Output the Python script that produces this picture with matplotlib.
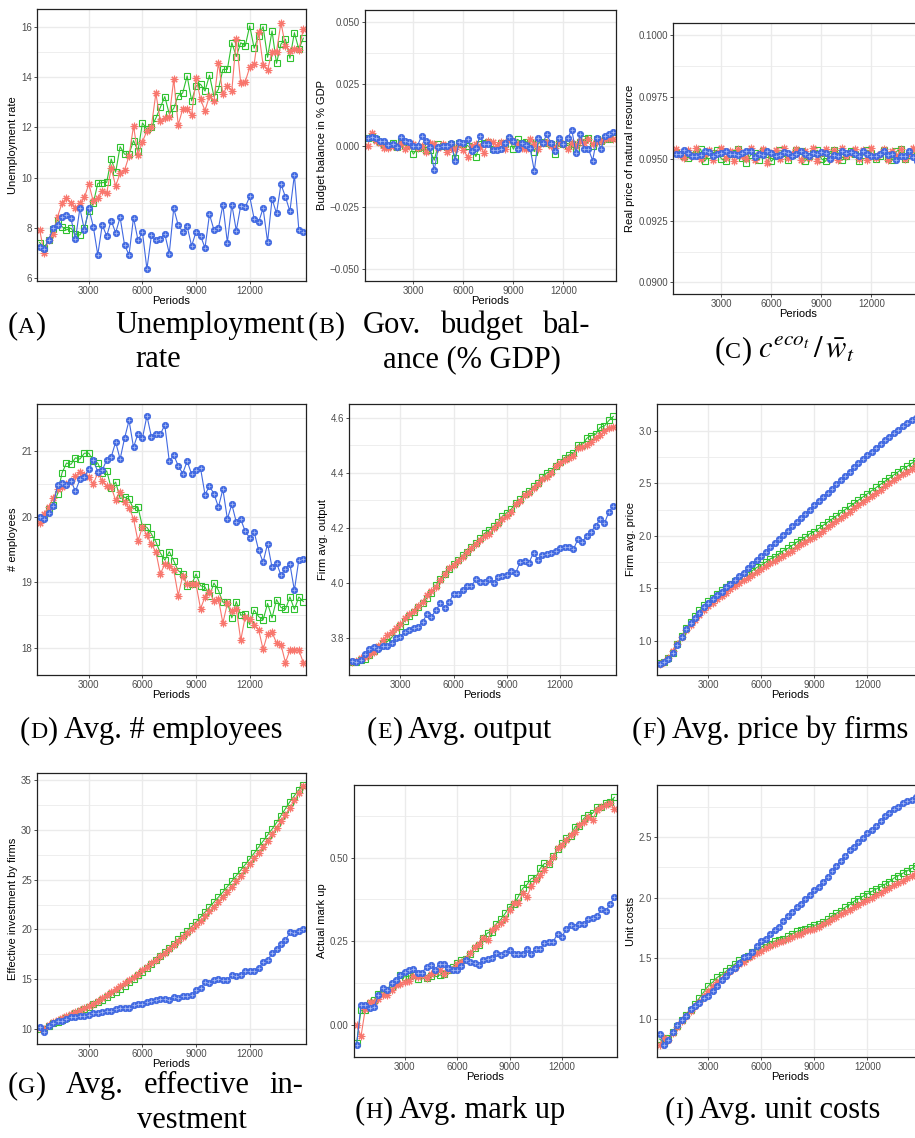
import numpy as np
import matplotlib
matplotlib.use('Agg')
import matplotlib.pyplot as plt
from matplotlib import font_manager as fm
from matplotlib.ticker import FuncFormatter

# ---------------- data ----------------
periods = np.arange(250, 15001, 250)

unemp_red = [7.92, 7.0, 7.52, 7.75, 8.45, 8.98, 9.18, 9.0, 8.78, 8.98,
             9.21, 9.75, 9.05, 9.18, 9.47, 9.38, 10.37, 9.67, 10.17, 10.30,
             10.86, 12.05, 10.90, 11.43, 11.85, 12.03, 13.35, 12.26, 12.36, 12.40,
             13.91, 12.09, 12.72, 12.72, 12.49, 13.95, 13.11, 12.66, 13.25, 13.05,
             14.57, 13.32, 13.64, 13.46, 15.50, 13.75, 13.81, 14.38, 14.52, 15.80,
             14.48, 14.28, 15.0, 15.0, 16.16, 15.23, 15.05, 15.11, 15.07, 15.9]
unemp_green = [7.42, 7.20, 7.52, 7.95, 8.32, 8.05, 7.92, 7.99, 7.75, 7.72,
               7.99, 8.68, 8.98, 9.77, 9.80, 9.81, 10.74, 10.21, 11.23, 10.93,
               10.93, 11.47, 11.06, 12.17, 11.92, 12.01, 12.36, 12.79, 13.22, 12.53,
               12.75, 13.26, 13.36, 14.04, 13.05, 13.64, 13.71, 13.44, 14.07, 13.22,
               13.51, 14.30, 14.30, 15.36, 14.81, 15.36, 15.23, 16.03, 15.14, 15.64,
               16.0, 14.78, 15.83, 14.54, 15.31, 15.50, 14.74, 15.76, 15.1, 15.54]
unemp_blue = [7.23, 7.17, 7.52, 7.99, 8.11, 8.45, 8.52, 8.38, 7.55, 8.78,
              7.92, 8.78, 8.05, 6.93, 8.12, 7.68, 8.29, 7.81, 8.42, 7.31,
              6.93, 8.41, 7.51, 7.83, 6.36, 7.70, 7.50, 7.56, 7.76, 6.98,
              8.78, 8.11, 7.85, 8.07, 7.28, 7.85, 7.68, 7.21, 8.54, 7.92,
              7.99, 8.91, 7.42, 8.93, 7.89, 8.89, 8.82, 9.25, 8.36, 8.23,
              8.78, 7.44, 9.15, 8.58, 9.74, 9.23, 8.66, 10.11, 7.92, 7.85]

budget_red = [-0.0003, 0.0050, 0.0020, 0.0010, -0.0010, -0.0010, 0.0000, -0.0005, 0.0010, -0.0015,
              0.0000, 0.0005, -0.0010, 0.0000, -0.0025, 0.0010, 0.0005, -0.0010, 0.0005, -0.0025,
              -0.0010, -0.0015, 0.0005, -0.0020, -0.0045, 0.0000, 0.0005, -0.0005, -0.0030, 0.0020,
              0.0015, 0.0000, 0.0015, -0.0015, 0.0025, 0.0020, 0.0005, -0.0010, -0.0015, 0.0025,
              0.0005, -0.0015, 0.0010, 0.0015, 0.0000, -0.0010, 0.0015, 0.0005, -0.0015, 0.0010,
              0.0000, 0.0020, 0.0010, 0.0025, 0.0005, 0.0015, 0.0020, 0.0025, 0.0030, 0.0025]
budget_green = [0.0030, 0.0035, 0.0025, 0.0015, 0.0005, 0.0000, 0.0010, -0.0005, 0.0020, 0.0000,
                0.0005, -0.0035, -0.0010, -0.0005, -0.0020, -0.0020, -0.0060, 0.0005, 0.0000, -0.0005,
                0.0005, -0.0050, 0.0010, 0.0005, 0.0000, -0.0015, -0.0045, 0.0005, 0.0010, 0.0015,
                -0.0015, -0.0015, 0.0010, 0.0005, 0.0025, -0.0015, 0.0025, 0.0010, 0.0015, 0.0015,
                -0.0025, 0.0010, 0.0015, 0.0010, 0.0005, -0.0035, 0.0010, 0.0005, 0.0000, 0.0005,
                -0.0020, 0.0015, 0.0025, 0.0030, 0.0000, 0.0025, 0.0020, 0.0030, 0.0025, 0.0030]
budget_blue = [0.0032, 0.0033, 0.0030, 0.0018, 0.0020, 0.0003, 0.0006, -0.0007, 0.0036, 0.0020,
               0.0014, -0.0004, 0.0000, 0.0039, 0.0020, -0.0007, -0.0100, -0.0008, -0.0004, 0.0000,
               0.0010, -0.0061, 0.0014, 0.0010, 0.0028, -0.0024, -0.0011, 0.0039, 0.0007, 0.0008,
               -0.0020, -0.0018, -0.0013, 0.0012, 0.0034, 0.0020, -0.0015, 0.0009, 0.0003, -0.0011,
               -0.0103, 0.0030, 0.0009, 0.0045, 0.0009, -0.0024, 0.0032, 0.0007, 0.0030, 0.0064,
               -0.0031, 0.0045, -0.0015, -0.0015, -0.0061, 0.0030, -0.0015, 0.0039, 0.0045, 0.0053]

resource_red = [0.09540, 0.09515, 0.09505, 0.09535, 0.09510, 0.09545, 0.09500, 0.09520, 0.09535, 0.09495,
                0.09525, 0.09545, 0.09505, 0.09530, 0.09490, 0.09540, 0.09510, 0.09500, 0.09545, 0.09495,
                0.09520, 0.09540, 0.09485, 0.09525, 0.09535, 0.09500, 0.09545, 0.09505, 0.09520, 0.09540,
                0.09495, 0.09530, 0.09505, 0.09545, 0.09490, 0.09525, 0.09540, 0.09500, 0.09535, 0.09495,
                0.09545, 0.09510, 0.09525, 0.09540, 0.09500, 0.09535, 0.09495, 0.09545, 0.09505, 0.09520,
                0.09540, 0.09495, 0.09530, 0.09510, 0.09540, 0.09500, 0.09525, 0.09545, 0.09505, 0.09535]
resource_green = [0.09525, 0.09520, 0.09510, 0.09505, 0.09515, 0.09520, 0.09540, 0.09490, 0.09515, 0.09525,
                  0.09535, 0.09500, 0.09490, 0.09520, 0.09525, 0.09540, 0.09505, 0.09485, 0.09515, 0.09525,
                  0.09495, 0.09530, 0.09520, 0.09490, 0.09510, 0.09535, 0.09525, 0.09495, 0.09515, 0.09535,
                  0.09530, 0.09490, 0.09510, 0.09525, 0.09535, 0.09500, 0.09490, 0.09520, 0.09535, 0.09525,
                  0.09495, 0.09510, 0.09530, 0.09520, 0.09490, 0.09515, 0.09535, 0.09525, 0.09500, 0.09510,
                  0.09535, 0.09505, 0.09495, 0.09530, 0.09540, 0.09500, 0.09515, 0.09530, 0.09510, 0.09525]
resource_blue = [0.09518, 0.09520, 0.09535, 0.09525, 0.09512, 0.09512, 0.09515, 0.09530, 0.09528, 0.09512,
                 0.09518, 0.09522, 0.09533, 0.09520, 0.09520, 0.09515, 0.09525, 0.09532, 0.09530, 0.09508,
                 0.09518, 0.09515, 0.09530, 0.09522, 0.09510, 0.09515, 0.09528, 0.09525, 0.09512, 0.09518,
                 0.09530, 0.09520, 0.09512, 0.09525, 0.09520, 0.09528, 0.09522, 0.09500, 0.09515, 0.09512,
                 0.09530, 0.09522, 0.09528, 0.09518, 0.09510, 0.09530, 0.09520, 0.09512, 0.09512, 0.09520,
                 0.09530, 0.09515, 0.09520, 0.09495, 0.09510, 0.09510, 0.09532, 0.09508, 0.09490, 0.09500]

employees_red = [19.90, 20.05, 20.15, 20.28, 20.42, 20.45, 20.50, 20.55, 20.62, 20.68,
                 20.64, 20.60, 20.50, 20.67, 20.55, 20.47, 20.46, 20.25, 20.38, 20.22,
                 20.14, 19.97, 19.63, 19.85, 19.72, 19.58, 19.47, 19.13, 19.28, 19.25,
                 19.19, 18.80, 19.10, 18.97, 18.97, 18.97, 18.60, 18.78, 18.85, 18.72,
                 18.75, 18.38, 18.68, 18.57, 18.60, 18.12, 18.48, 18.45, 18.35, 18.28,
                 17.98, 18.22, 18.24, 18.08, 18.05, 17.78, 17.97, 17.97, 17.97, 17.78]
employees_green = [19.95, 20.00, 20.12, 20.18, 20.35, 20.67, 20.82, 20.80, 20.90, 20.88,
                   20.97, 20.97, 20.85, 20.82, 20.67, 20.70, 20.44, 20.53, 20.28, 20.30,
                   20.27, 20.12, 20.15, 19.85, 19.84, 19.74, 19.62, 19.45, 19.34, 19.47,
                   19.33, 19.18, 19.13, 18.95, 18.97, 19.13, 18.95, 18.93, 18.80, 18.99,
                   18.88, 18.70, 18.70, 18.46, 18.71, 18.50, 18.52, 18.36, 18.58, 18.48,
                   18.43, 18.68, 18.46, 18.74, 18.62, 18.59, 18.78, 18.59, 18.78, 18.71]
employees_blue = [20.00, 19.97, 20.06, 20.17, 20.48, 20.52, 20.49, 20.55, 20.39, 20.57,
                  20.61, 20.73, 20.86, 20.69, 20.71, 20.87, 20.91, 21.14, 20.88, 21.20,
                  21.47, 21.06, 21.27, 21.20, 21.54, 21.22, 21.27, 21.26, 21.40, 20.85,
                  20.94, 20.78, 20.66, 20.85, 20.65, 20.71, 20.74, 20.34, 20.47, 20.35,
                  20.15, 20.42, 19.97, 20.19, 19.92, 19.96, 19.78, 19.68, 19.77, 19.49,
                  19.31, 19.59, 19.23, 19.30, 19.11, 19.21, 19.28, 18.88, 19.35, 19.36]

output_red = [3.712, 3.715, 3.725, 3.728, 3.735, 3.748, 3.770, 3.790, 3.808, 3.820,
              3.835, 3.848, 3.870, 3.885, 3.898, 3.915, 3.930, 3.955, 3.970, 3.985,
              4.010, 4.030, 4.052, 4.065, 4.080, 4.095, 4.112, 4.125, 4.140, 4.155,
              4.168, 4.178, 4.198, 4.212, 4.230, 4.242, 4.258, 4.285, 4.298, 4.318,
              4.325, 4.345, 4.360, 4.378, 4.385, 4.400, 4.425, 4.435, 4.448, 4.455,
              4.462, 4.490, 4.495, 4.500, 4.512, 4.525, 4.538, 4.550, 4.562, 4.565]
output_green = [3.710, 3.712, 3.718, 3.722, 3.735, 3.752, 3.765, 3.775, 3.785, 3.800,
                3.822, 3.843, 3.862, 3.878, 3.892, 3.910, 3.925, 3.945, 3.962, 3.990,
                4.015, 4.030, 4.050, 4.068, 4.082, 4.100, 4.110, 4.128, 4.145, 4.162,
                4.180, 4.192, 4.205, 4.220, 4.242, 4.255, 4.268, 4.290, 4.303, 4.322,
                4.335, 4.350, 4.362, 4.385, 4.400, 4.405, 4.425, 4.438, 4.455, 4.465,
                4.470, 4.500, 4.502, 4.525, 4.535, 4.540, 4.565, 4.570, 4.590, 4.605]
output_blue = [3.715, 3.713, 3.718, 3.740, 3.760, 3.765, 3.760, 3.770, 3.768, 3.780,
               3.800, 3.802, 3.820, 3.826, 3.835, 3.840, 3.858, 3.885, 3.876, 3.900,
               3.925, 3.907, 3.930, 3.960, 3.960, 3.975, 3.988, 3.988, 4.012, 4.004,
               4.004, 4.012, 4.000, 4.022, 4.024, 4.028, 4.044, 4.036, 4.076, 4.080,
               4.073, 4.109, 4.082, 4.100, 4.104, 4.109, 4.115, 4.127, 4.131, 4.128,
               4.121, 4.158, 4.149, 4.170, 4.185, 4.207, 4.230, 4.216, 4.258, 4.278]

price_red = [0.78, 0.80, 0.84, 0.90, 0.97, 1.04, 1.10, 1.15, 1.20, 1.25,
             1.29, 1.33, 1.36, 1.40, 1.43, 1.46, 1.49, 1.52, 1.55, 1.58,
             1.60, 1.63, 1.66, 1.68, 1.71, 1.74, 1.76, 1.79, 1.81, 1.84,
             1.86, 1.89, 1.92, 1.94, 1.97, 1.99, 2.02, 2.05, 2.08, 2.11,
             2.14, 2.17, 2.20, 2.23, 2.26, 2.29, 2.32, 2.35, 2.38, 2.41,
             2.44, 2.47, 2.50, 2.53, 2.56, 2.59, 2.61, 2.64, 2.67, 2.70]
price_green = [0.79, 0.80, 0.835, 0.89, 0.97, 1.05, 1.12, 1.18, 1.24, 1.29,
               1.34, 1.38, 1.41, 1.45, 1.48, 1.51, 1.54, 1.57, 1.59, 1.62,
               1.65, 1.67, 1.70, 1.72, 1.75, 1.78, 1.80, 1.83, 1.86, 1.88,
               1.91, 1.94, 1.96, 1.99, 2.02, 2.04, 2.07, 2.10, 2.13, 2.16,
               2.19, 2.22, 2.25, 2.28, 2.31, 2.34, 2.37, 2.40, 2.43, 2.46,
               2.49, 2.52, 2.55, 2.58, 2.61, 2.64, 2.66, 2.69, 2.71, 2.74]
price_blue = [0.785, 0.80, 0.83, 0.885, 0.96, 1.04, 1.11, 1.17, 1.22, 1.27,
              1.32, 1.36, 1.40, 1.44, 1.47, 1.51, 1.54, 1.58, 1.62, 1.65,
              1.69, 1.73, 1.77, 1.81, 1.85, 1.89, 1.93, 1.97, 2.01, 2.05,
              2.09, 2.13, 2.17, 2.21, 2.25, 2.29, 2.33, 2.37, 2.41, 2.45,
              2.49, 2.53, 2.57, 2.61, 2.65, 2.69, 2.73, 2.77, 2.80, 2.84,
              2.87, 2.91, 2.94, 2.98, 3.01, 3.04, 3.07, 3.10, 3.12, 3.15]

invest_red = [10.10, 10.05, 10.40, 10.75, 10.90, 11.10, 11.30, 11.50, 11.70, 11.90,
              12.10, 12.30, 12.55, 12.80, 13.10, 13.40, 13.70, 14.00, 14.30, 14.60,
              14.90, 15.25, 15.55, 15.90, 16.25, 16.60, 16.95, 17.30, 17.65, 18.05,
              18.40, 18.80, 19.20, 19.60, 20.00, 20.40, 20.85, 21.30, 21.80, 22.30,
              22.80, 23.30, 23.80, 24.30, 24.85, 25.40, 26.00, 26.60, 27.15, 27.70,
              28.30, 28.90, 29.55, 30.20, 30.85, 31.50, 32.20, 32.95, 33.65, 34.40]
invest_green = [10.05, 10.00, 10.30, 10.60, 10.75, 10.95, 11.15, 11.35, 11.60, 11.85,
                12.05, 12.25, 12.50, 12.70, 12.95, 13.20, 13.50, 13.75, 14.05, 14.35,
                14.70, 15.05, 15.40, 15.75, 16.15, 16.55, 16.95, 17.35, 17.75, 18.15,
                18.55, 19.00, 19.40, 19.85, 20.30, 20.75, 21.25, 21.75, 22.25, 22.75,
                23.25, 23.75, 24.30, 24.85, 25.40, 25.95, 26.50, 27.05, 27.65, 28.25,
                28.85, 29.45, 30.05, 30.70, 31.40, 32.10, 32.80, 33.40, 34.00, 34.50]
invest_blue = [10.27, 9.77, 10.33, 10.60, 10.83, 10.87, 11.00, 11.20, 11.20, 11.33,
               11.37, 11.40, 11.60, 11.67, 11.70, 11.80, 11.87, 12.07, 12.17, 12.17,
               12.10, 12.40, 12.50, 12.57, 12.70, 12.80, 12.93, 13.07, 13.07, 12.93,
               13.27, 13.13, 13.37, 13.33, 13.43, 13.93, 14.13, 14.73, 14.60, 14.93,
               15.07, 14.93, 14.93, 15.40, 15.33, 15.47, 15.87, 15.80, 15.80, 16.10,
               16.73, 16.93, 17.60, 18.00, 18.53, 18.93, 19.70, 19.60, 19.87, 20.00]

markup_red = [0.000, -0.035, 0.048, 0.068, 0.068, 0.078, 0.088, 0.088, 0.103, 0.118,
              0.123, 0.128, 0.130, 0.145, 0.143, 0.148, 0.140, 0.153, 0.158, 0.163,
              0.153, 0.165, 0.168, 0.181, 0.188, 0.198, 0.215, 0.233, 0.243, 0.261,
              0.253, 0.285, 0.293, 0.306, 0.315, 0.343, 0.365, 0.363, 0.393, 0.383,
              0.415, 0.433, 0.448, 0.463, 0.483, 0.503, 0.528, 0.538, 0.553, 0.568,
              0.578, 0.598, 0.608, 0.623, 0.613, 0.643, 0.653, 0.658, 0.665, 0.645]
markup_green = [-0.055, 0.043, 0.045, 0.065, 0.073, 0.093, 0.098, 0.103, 0.113, 0.125,
                0.148, 0.143, 0.145, 0.148, 0.138, 0.150, 0.141, 0.146, 0.156, 0.148,
                0.152, 0.163, 0.173, 0.185, 0.195, 0.198, 0.213, 0.230, 0.238, 0.261,
                0.275, 0.278, 0.303, 0.315, 0.333, 0.353, 0.360, 0.383, 0.408, 0.420,
                0.438, 0.440, 0.468, 0.483, 0.481, 0.505, 0.525, 0.543, 0.558, 0.565,
                0.593, 0.595, 0.618, 0.628, 0.633, 0.651, 0.653, 0.665, 0.668, 0.681]
markup_blue = [-0.062, 0.060, 0.058, 0.050, 0.053, 0.088, 0.110, 0.103, 0.125, 0.133,
               0.150, 0.158, 0.163, 0.168, 0.156, 0.156, 0.173, 0.178, 0.165, 0.183,
               0.181, 0.171, 0.165, 0.165, 0.175, 0.193, 0.188, 0.186, 0.178, 0.195,
               0.198, 0.201, 0.215, 0.210, 0.215, 0.223, 0.211, 0.211, 0.213, 0.228,
               0.211, 0.228, 0.226, 0.245, 0.248, 0.248, 0.273, 0.263, 0.288, 0.298,
               0.293, 0.303, 0.303, 0.315, 0.320, 0.325, 0.345, 0.340, 0.361, 0.381]

cost_red = [0.78, 0.84, 0.82, 0.88, 0.93, 0.98, 1.02, 1.06, 1.10, 1.14,
            1.19, 1.23, 1.27, 1.30, 1.33, 1.36, 1.39, 1.42, 1.45, 1.47,
            1.50, 1.52, 1.54, 1.56, 1.58, 1.60, 1.62, 1.63, 1.64, 1.66,
            1.67, 1.69, 1.70, 1.72, 1.73, 1.74, 1.76, 1.78, 1.80, 1.82,
            1.84, 1.86, 1.88, 1.90, 1.92, 1.94, 1.96, 1.98, 2.00, 2.02,
            2.04, 2.06, 2.08, 2.10, 2.12, 2.14, 2.16, 2.18, 2.20, 2.22]
cost_green = [0.83, 0.80, 0.84, 0.89, 0.94, 0.99, 1.03, 1.07, 1.12, 1.17,
              1.22, 1.27, 1.30, 1.34, 1.36, 1.39, 1.42, 1.45, 1.48, 1.50,
              1.52, 1.55, 1.57, 1.59, 1.61, 1.62, 1.64, 1.65, 1.66, 1.68,
              1.70, 1.72, 1.73, 1.74, 1.76, 1.77, 1.78, 1.80, 1.82, 1.85,
              1.87, 1.89, 1.92, 1.94, 1.97, 1.99, 2.01, 2.03, 2.05, 2.07,
              2.09, 2.11, 2.13, 2.16, 2.18, 2.20, 2.22, 2.24, 2.26, 2.28]
cost_blue = [0.876, 0.78, 0.82, 0.89, 0.95, 0.99, 1.02, 1.08, 1.10, 1.13,
             1.17, 1.19, 1.23, 1.27, 1.32, 1.35, 1.39, 1.42, 1.46, 1.51,
             1.52, 1.55, 1.60, 1.64, 1.66, 1.70, 1.73, 1.76, 1.81, 1.85,
             1.88, 1.92, 1.95, 1.99, 2.02, 2.06, 2.09, 2.13, 2.17, 2.22,
             2.26, 2.30, 2.34, 2.39, 2.42, 2.46, 2.49, 2.53, 2.56, 2.59,
             2.63, 2.67, 2.70, 2.73, 2.75, 2.78, 2.80, 2.81, 2.83, 2.85]

x_ticks = [3000, 6000, 9000, 12000]
x_label = "Periods"

# ---------------- styling ----------------
W, H = 915, 1138
fig = plt.figure(figsize=(W / 100, H / 100), dpi=100)
plt.rcParams['mathtext.fontset'] = 'stix'

names = {f.name for f in fm.fontManager.ttflist}
SANS = 'Liberation Sans Narrow' if 'Liberation Sans Narrow' in names else 'Liberation Sans'
SERIF = 'Liberation Serif'

RED = '#F8766D'
GREEN = '#2FC22F'
BLUE = '#4169E1'
GRID = '#EBEBEB'


def box(l, t, r, b):
    return [l / W, 1 - b / H, (r - l) / W, (b - t) / H]


def fmt(d):
    return FuncFormatter(lambda v, p: (f'{v:.{d}f}').replace('-', '\u2212'))


def panel(rect, ylim, yticks, dec, ylabel, red, green, blue):
    ax = fig.add_axes(box(*rect))
    ax.set_xticks(x_ticks)
    ax.set_xticklabels([str(t) for t in x_ticks])
    ax.set_yticks(yticks)
    ax.yaxis.set_major_formatter(fmt(dec))
    step = yticks[1] - yticks[0]
    minors = [m for m in [yticks[0] - step / 2] + [t + step / 2 for t in yticks]
              if ylim[0] <= m <= ylim[1]]
    ax.set_yticks(minors, minor=True)
    ax.set_xlim(100, 15150)
    ax.set_ylim(*ylim)
    ax.tick_params(axis='y', which='minor', length=0)
    ax.tick_params(which='major', direction='out', length=2.5, width=0.6,
                   color='#333333', labelsize=7, labelcolor='#4D4D4D', pad=1.2)
    for lab in ax.get_xticklabels() + ax.get_yticklabels():
        lab.set_family(SANS)
    ax.grid(which='major', color=GRID, lw=1.0)
    ax.grid(which='minor', axis='y', color=GRID, lw=0.6)
    ax.set_axisbelow(True)
    for s in ax.spines.values():
        s.set_color('#222222')
        s.set_linewidth(0.9)
    ax.set_xlabel(x_label, fontsize=8, family=SANS, labelpad=0)
    ax.set_ylabel(ylabel, fontsize=8, family=SANS, labelpad=2)
    ax.plot(periods, green, color=GREEN, lw=0.8, marker='s', ms=4.3,
            mfc='none', mec=GREEN, mew=0.8)
    ax.plot(periods, red, color=RED, lw=0.8, marker=(8, 2, 0), ms=5.4,
            mec=RED, mew=0.8)
    ax.plot(periods, blue, color=BLUE, lw=0.8, marker='o', ms=4.5,
            mfc=BLUE, mec=BLUE, mew=0.6)
    ax.plot(periods, blue, ls='none', marker='+', ms=3.2, mec='#C8D4FA',
            mew=0.5, alpha=0.8)
    return ax


panel((37, 9, 306, 281), (5.89, 16.70), [6, 8, 10, 12, 14, 16], 0,
      'Unemployment rate', unemp_red, unemp_green, unemp_blue)
panel((365, 10, 616, 281), (-0.055, 0.055), [-0.05, -0.025, 0.0, 0.025, 0.05], 3,
      'Budget balance in % GDP', budget_red, budget_green, budget_blue)
panel((673, 23, 924, 294), (0.08953, 0.10050), [0.09, 0.0925, 0.095, 0.0975, 0.1], 4,
      'Real price of natural resource', resource_red, resource_green, resource_blue)
panel((37, 404, 306, 675), (17.59, 21.72), [18, 19, 20, 21], 0,
      '# employees', employees_red, employees_green, employees_blue)
panel((349, 404, 616, 675), (3.664, 4.65), [3.8, 4.0, 4.2, 4.4, 4.6], 1,
      'Firm avg. output', output_red, output_green, output_blue)
panel((657, 404, 923, 675), (0.676, 3.254), [1.0, 1.5, 2.0, 2.5, 3.0], 1,
      'Firm avg. price', price_red, price_green, price_blue)
panel((37, 773, 306, 1044), (8.53, 35.67), [10, 15, 20, 25, 30, 35], 0,
      'Effective investment by firms', invest_red, invest_green, invest_blue)
panel((354, 785, 617, 1057), (-0.097, 0.718), [0.0, 0.25, 0.5], 2,
      'Actual mark up', markup_red, markup_green, markup_blue)
panel((657, 785, 923, 1057), (0.682, 2.93), [1.0, 1.5, 2.0, 2.5], 1,
      'Unit costs', cost_red, cost_green, cost_blue)

# ---------------- captions ----------------
CAP = 22
renderer = fig.canvas.get_renderer()


def make(parts):
    items = []
    cur = 0.0
    for s, k in parts:
        t = fig.text(0, 0, s, fontsize=CAP * k, family=SERIF, va='baseline', ha='left')
        w = t.get_window_extent(renderer).width
        items.append((t, cur))
        cur += w
    return items, cur


def put(items, x, y):
    for t, dx in items:
        t.set_position(((x + dx) / W, 1 - y / H))


def caption(x, y, parts, ha='left'):
    items, w = make(parts)
    off = {'left': 0.0, 'center': w / 2, 'right': w}[ha]
    put(items, x - off, y)


def justify(x0, x1, y, words):
    made = [make(p) for p in words]
    total = sum(w for _, w in made)
    gap = (x1 - x0 - total) / (len(made) - 1)
    cur = x0
    for items, w in made:
        put(items, cur, y)
        cur += w + gap


def tag(letter):
    return [("(", 1), (letter, 0.78), (")", 1)]


justify(8, 305, 333, [tag("A"), [("Unemployment", 1)]])
caption(158, 367, [("rate", 1)], ha='center')
justify(308, 590, 333, [tag("B"), [("Gov.", 1)], [("budget", 1)], [("bal-", 1)]])
caption(472, 367, [("ance (% GDP)", 1)], ha='center')
caption(785, 358, tag("C") + [(r"$\ c^{eco_t}\,/\,\bar{w}_t$", 1)], ha='center')

caption(20, 738, tag("D") + [(" Avg. # employees", 1)])
caption(367, 738, tag("E") + [(" Avg. output", 1)])
caption(632, 738, tag("F") + [(" Avg. price by firms", 1)])

justify(8, 303, 1093, [tag("G"), [("Avg.", 1)], [("effective", 1)], [("in-", 1)]])
caption(192, 1128, [("vestment", 1)], ha='center')
caption(355, 1118, tag("H") + [(" Avg. mark up", 1)])
caption(665, 1118, tag("I") + [(" Avg. unit costs", 1)])

fig.savefig('out.png', dpi=100)
